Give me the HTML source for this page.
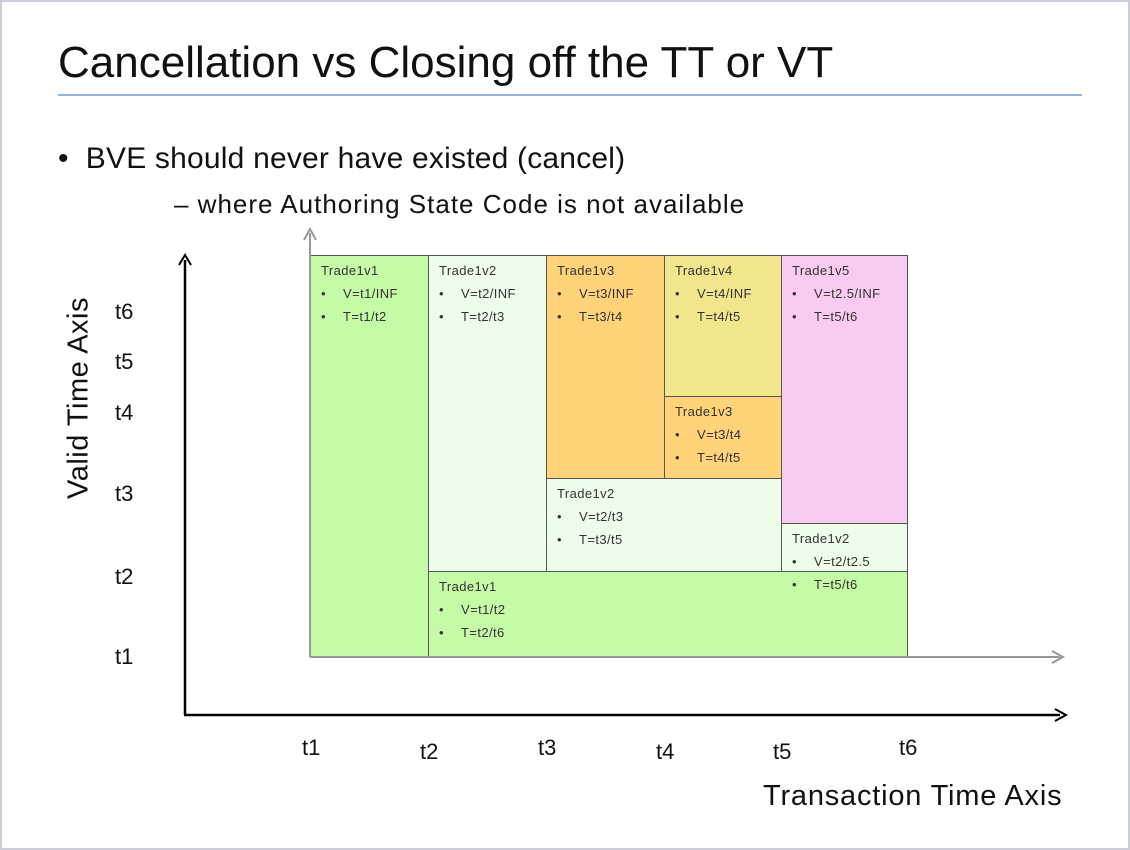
<!DOCTYPE html>
<html><head><meta charset="utf-8">
<style>
body{margin:0;width:1130px;height:850px;overflow:hidden;background:#fff;font-family:"Liberation Sans",sans-serif;}
#frame{position:absolute;left:0;top:0;width:1126px;height:846px;border:2px solid #c9ced9;}
.abs{position:absolute;white-space:nowrap;color:#111;}
.box{position:absolute;box-sizing:border-box;border:1.5px solid #555;font-size:13px;letter-spacing:0.4px;color:#333;}
.box .t{position:absolute;left:10px;top:7px;}
.box .b{position:absolute;left:10px;}
.box .b span{position:absolute;left:22px;}
</style></head><body>
<div id="frame"></div>
<div class="abs" style="left:58px;top:38px;font-size:44px;">Cancellation vs Closing off the TT or VT</div>
<div class="abs" style="left:58px;top:94px;width:1024px;height:2px;background:#93b3e8;"></div>
<div class="abs" style="left:58px;top:142px;font-size:30px;letter-spacing:0.2px;">•&nbsp; BVE should never have existed (cancel)</div>
<div class="abs" style="left:174px;top:189px;font-size:26px;letter-spacing:1px;">– where Authoring State Code is not available</div>
<div class="abs" style="left:79px;top:398px;font-size:29px;letter-spacing:0.5px;transform:translate(-50%,-50%) rotate(-90deg);">Valid Time Axis</div>
<div class="abs" style="left:763px;top:780px;font-size:29px;letter-spacing:0.8px;">Transaction Time Axis</div>
<svg id="axes" width="1130" height="850" style="position:absolute;left:0;top:0;z-index:2;pointer-events:none"></svg>
<div id="boxes"></div>
<script>
const xTicks=["t1","t2","t3","t4","t5","t6"];
const xTickPx=[310,428,546,664,781,907];
const yTickLabels=["t6","t5","t4","t3","t2","t1"];
const yTickPx=[312,362,413,494,577,657];
const vKeys=["INF","t4","t3","t2.5","t2","t1"];
const vPx=[255,396,478,523,571,657];
const rects=[
 {n:"Trade1v1",v:"t1/INF",t:"t1/t2",x0:0,x1:1,y0:"t1",y1:"INF",c:"#c5fba6"},
 {n:"Trade1v2",v:"t2/INF",t:"t2/t3",x0:1,x1:2,y0:"t2",y1:"INF",c:"#eefde9"},
 {n:"Trade1v3",v:"t3/INF",t:"t3/t4",x0:2,x1:3,y0:"t3",y1:"INF",c:"#ffd377"},
 {n:"Trade1v4",v:"t4/INF",t:"t4/t5",x0:3,x1:4,y0:"t4",y1:"INF",c:"#f1e68c"},
 {n:"Trade1v3",v:"t3/t4",t:"t4/t5",x0:3,x1:4,y0:"t3",y1:"t4",c:"#ffd377"},
 {n:"Trade1v5",v:"t2.5/INF",t:"t5/t6",x0:4,x1:5,y0:"t2.5",y1:"INF",c:"#f9cbf0"},
 {n:"Trade1v2",v:"t2/t3",t:"t3/t5",x0:2,x1:4,y0:"t2",y1:"t3",c:"#eefde9"},
 {n:"Trade1v1",v:"t1/t2",t:"t2/t6",x0:1,x1:5,y0:"t1",y1:"t2",c:"#c5fba6"},
 {n:"Trade1v2",v:"t2/t2.5",t:"t5/t6",x0:4,x1:5,y0:"t2",y1:"t2.5",c:"#eefde9"}
];
const X=i=>xTickPx[i];
const Y=k=>vPx[vKeys.indexOf(k)];
const host=document.getElementById('boxes');
rects.forEach((r,i)=>{
 const d=document.createElement('div');
 d.className='box';
 
 
 const l=X(r.x0),t=Y(r.y1);
 d.style.left=l+'px';d.style.top=t+'px';
 d.style.width=(X(r.x1)-l+1)+'px';d.style.height=(Y(r.y0)-t+1)+'px';
 d.style.background=r.c;
 d.innerHTML='<div class="t">'+r.n+'</div><div class="b" style="top:30px">•<span>V='+r.v+'</span></div><div class="b" style="top:53px">•<span>T='+r.t+'</span></div>';
 host.appendChild(d);
});
const svg=document.getElementById('axes');
const ns='http://www.w3.org/2000/svg';
function line(x1,y1,x2,y2,c,w,name){const e=document.createElementNS(ns,'line');
 e.setAttribute('x1',x1);e.setAttribute('y1',y1);e.setAttribute('x2',x2);e.setAttribute('y2',y2);
 e.setAttribute('stroke',c);e.setAttribute('stroke-width',w);
 
 
 svg.appendChild(e);}
function arrow(pts,c,name){const e=document.createElementNS(ns,'polyline');
 e.setAttribute('points',pts);e.setAttribute('fill','none');e.setAttribute('stroke',c);e.setAttribute('stroke-width',2);
 
 
 svg.appendChild(e);}
line(310,233,310,657,'#999',2,'valid-time-gray-axis');
arrow('304,240 310,229 316,240','#999','gray-y-arrowhead');
line(310,657,1060,657,'#999',2,'transaction-gray-axis');
arrow('1052,651 1063,657 1052,663','#999','gray-x-arrowhead');
line(185,260,185,715,'#000',2.5,'y-axis');
arrow('179,265 185,255 191,265','#000','y-arrowhead');
line(184,715,1060,715,'#000',2.5,'x-axis');
arrow('1055,709 1066,715 1055,721','#000','x-arrowhead');
const xLabY=[747,751,747,751,751,747];
xTicks.forEach((s,i)=>{const d=document.createElement('div');d.className='abs';
 
 
 d.style.fontSize='22px';d.style.left=(X(i)-8)+'px';d.style.top=(xLabY[i]-12)+'px';d.textContent=s;document.body.appendChild(d);});
yTickLabels.forEach((s,i)=>{const d=document.createElement('div');d.className='abs';
 
 
 d.style.fontSize='22px';d.style.left='115px';d.style.top=(yTickPx[i]-13)+'px';d.textContent=s;document.body.appendChild(d);});
</script>
</body></html>
